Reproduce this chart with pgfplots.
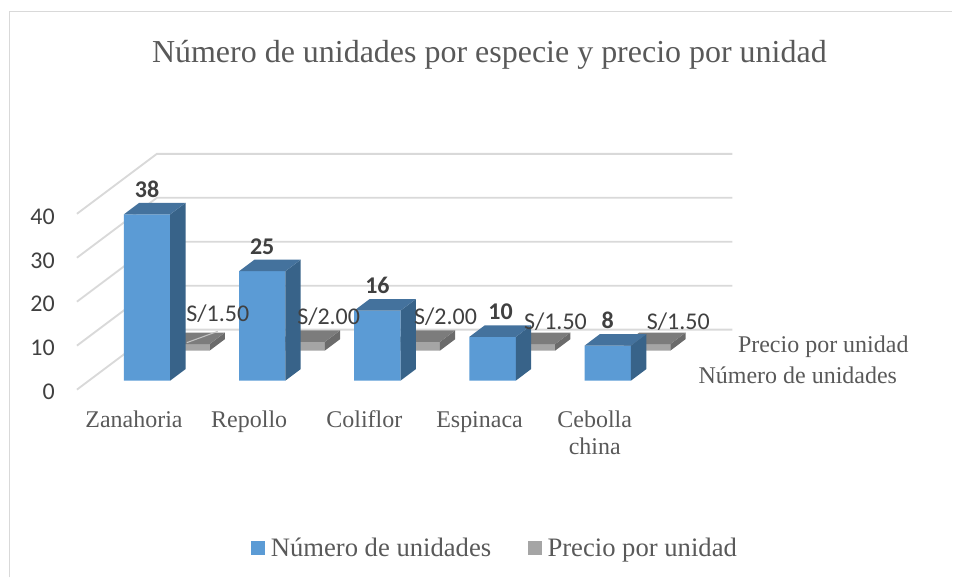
\documentclass[border=0pt]{standalone}
\usepackage{fontspec}
\setmainfont{Liberation Serif}
\newfontfamily\calibri{Carlito}
\usepackage{pgfplots}
\usepackage{pgfplotstable}
\pgfplotsset{compat=1.18}
\definecolor{BlueFront}{HTML}{5B9BD5}
\definecolor{BlueSide}{HTML}{386389}
\definecolor{BlueTop}{HTML}{44729D}
\definecolor{GrayFront}{HTML}{A5A5A5}
\definecolor{GraySide}{HTML}{6B6B6B}
\definecolor{GrayTop}{HTML}{7C7C7C}
\definecolor{GridGray}{HTML}{D9D9D9}
\definecolor{TextGray}{HTML}{595959}
\definecolor{LabelGray}{HTML}{404040}

% dx, dy: where the label sits relative to the top of the bar, in pixels
\pgfplotstableread{
x y dx dy
0 38 0 25
1 25 0 25
2 16 0 25
3 10 8 25
4 8 0 25
}\unidades
\pgfplotstableread[col sep=comma]{
x,y,dx,dy,label
0,1.5,70.8,60.4,S/1.50
1,2.0,66.5,55.7,S/2.00
2,2.0,68.2,55.7,S/2.00
3,1.5,62.9,52.9,S/1.50
4,1.5,70.6,52.9,S/1.50
}\precio

% 1 category = 115.3 px, 1 unit = 4.38 px, bar 0 centred on px 147.2, base on px 381
\newcommand{\depthfaces}[6]{%
  \pgfmathsetmacro{\xa}{#1+(#4-23.2)/115.3}
  \pgfmathsetmacro{\xb}{#1+(#4+23.2)/115.3}
  \pgfmathsetmacro{\xc}{\xa+15.3/115.3}
  \pgfmathsetmacro{\xd}{\xb+15.3/115.3}
  \pgfmathsetmacro{\yb}{#3}
  \pgfmathsetmacro{\yt}{#3+#2}
  \pgfmathsetmacro{\ybb}{\yb+11.5/4.38}
  \pgfmathsetmacro{\ytb}{\yt+11.5/4.38}
  \edef\temp{\noexpand\addplot[fill=#5,draw=none,forget plot] coordinates {(\xb,\yb)(\xb,\yt)(\xd,\ytb)(\xd,\ybb)(\xb,\yb)};
    \noexpand\addplot[fill=#6,draw=none,forget plot] coordinates {(\xa,\yt)(\xb,\yt)(\xd,\ytb)(\xc,\ytb)(\xa,\yt)};}
  \temp}
\newcommand{\gridline}[1]{%
  \pgfmathsetmacro{\xa}{(77-147.2)/115.3}
  \pgfmathsetmacro{\xb}{(157-147.2)/115.3}
  \pgfmathsetmacro{\xc}{(733-147.2)/115.3}
  \pgfmathsetmacro{\ya}{(381-390+44*#1)/4.38}
  \pgfmathsetmacro{\yb}{(381-330+44*#1)/4.38}
  \edef\temp{\noexpand\addplot[GridGray,line width=1.4pt,forget plot] coordinates {(\xa,\ya)(\xb,\yb)(\xc,\yb)};}
  \temp}
\newcommand{\st}{\rule{0pt}{13pt}}

\begin{document}
\begin{tikzpicture}
\begin{axis}[
  scale only axis,
  width=714.75pt,
  height=433.5pt,
  xmin=-1.2767, xmax=6.9890,
  ymin=-44.98, ymax=86.99,
  clip=false,
  axis x line*=bottom,
  axis y line*=left,
  axis line style={draw=none},
  tick style={draw=none},
  xtick={0,1,2,3,4},
  xticklabels={\st Zanahoria,\st Repollo,\st Coliflor,\st Espinaca,{\st Cebolla\\china}},
  xticklabel style={font=\fontsize{18}{20}\selectfont,text=TextGray,align=center,
    anchor=north,xshift=-9.8pt,yshift=128.8pt},
  ytick={0,10,20,30,40},
  yticklabel style={font=\calibri\fontsize{18}{20}\selectfont,text=LabelGray,
    anchor=east,inner xsep=0pt,xshift=41.25pt,yshift=-8.25pt},
  /pgf/number format/assume math mode=true,
  legend columns=2,
  legend cell align=left,
  legend style={at={(rel axis cs:0.5203,0.0505)},anchor=center,draw=none,fill=none,
    font=\fontsize{20}{22}\selectfont,text=TextGray,
    /tikz/every even column/.append style={column sep=25.5pt}},
  legend image code/.code={\fill[#1] (0pt,-5pt) rectangle (10.5pt,5.5pt);\path (12.75pt,0pt);},
]
\gridline{0}\gridline{1}\gridline{2}\gridline{3}\gridline{4}

% gray series, further back
\addplot[ybar,bar width=34.8pt,bar shift=29.55pt,yshift=22.5pt,fill=GrayFront,draw=none,forget plot]
  table[x=x,y=y] {\precio};
\depthfaces{0}{1.5}{6.849}{39.4}{GraySide}{GrayTop}
\depthfaces{1}{2.0}{6.849}{39.4}{GraySide}{GrayTop}
\depthfaces{2}{2.0}{6.849}{39.4}{GraySide}{GrayTop}
\depthfaces{3}{1.5}{6.849}{39.4}{GraySide}{GrayTop}
\depthfaces{4}{1.5}{6.849}{39.4}{GraySide}{GrayTop}
% stray light stroke on the first gray bar
\addplot[color=GridGray!90!black,line width=0.8pt,forget plot] coordinates {(0.345,8.68)(0.614,11.26)};

% blue series
\addplot[ybar,bar width=34.8pt,bar shift=0pt,fill=BlueFront,draw=none,forget plot,
  visualization depends on={\thisrow{dx} \as \dx},
  visualization depends on={\thisrow{dy} \as \dy},
  nodes near coords,
  every node near coord/.append style={font=\calibri\bfseries\fontsize{18}{20}\selectfont,
    text=LabelGray,anchor=center,xshift={0.75pt*\dx},yshift={0.75pt*\dy}},
] table[x=x,y=y] {\unidades};
\depthfaces{0}{38}{0}{0}{BlueSide}{BlueTop}
\depthfaces{1}{25}{0}{0}{BlueSide}{BlueTop}
\depthfaces{2}{16}{0}{0}{BlueSide}{BlueTop}
\depthfaces{3}{10}{0}{0}{BlueSide}{BlueTop}
\depthfaces{4}{8}{0}{0}{BlueSide}{BlueTop}

% price labels go over everything
\addplot[draw=none,mark=none,forget plot,
  visualization depends on={\thisrow{dx} \as \dx},
  visualization depends on={\thisrow{dy} \as \dy},
  point meta=explicit symbolic,
  nodes near coords,
  every node near coord/.append style={font=\calibri\fontsize{18}{20}\selectfont,
    text=LabelGray,anchor=center,xshift={0.75pt*\dx},yshift={0.75pt*\dy}},
] table[x=x,y=y,meta=label,col sep=comma] {\precio};

\addlegendimage{fill=BlueFront,draw=none}
\addlegendentry{Número de unidades}
\addlegendimage{fill=GrayFront,draw=none}
\addlegendentry{Precio por unidad}

\draw[GridGray,line width=1.4pt] (rel axis cs:0.01,0) -- (rel axis cs:0.01,0.98) -- (rel axis cs:1,0.98);
\node[text=TextGray,font=\fontsize{24}{28}\selectfont] at (rel axis cs:0.5140,0.9045) {Número de unidades por especie y precio por unidad};
\node[text=TextGray,font=\fontsize{18}{20}\selectfont] at (rel axis cs:0.8647,0.3990) {Precio por unidad};
\node[text=TextGray,font=\fontsize{18}{20}\selectfont] at (rel axis cs:0.8380,0.3500) {Número de unidades};
\end{axis}
\end{tikzpicture}
\end{document}
